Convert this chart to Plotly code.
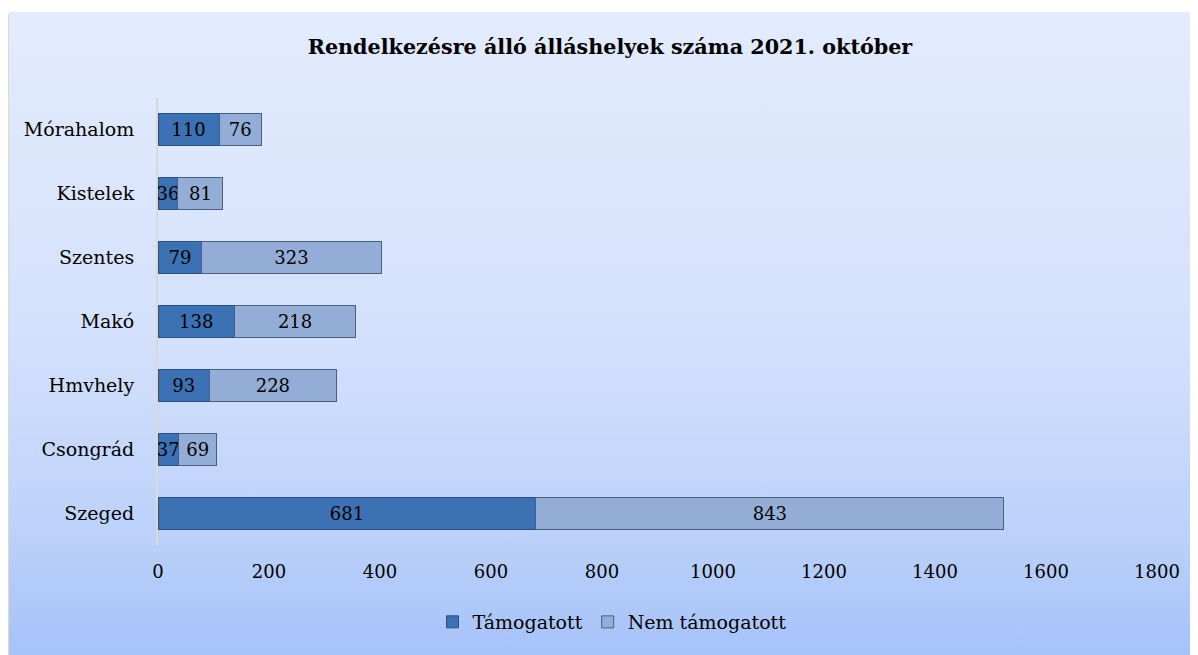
import plotly.graph_objects as go

categories = ["Szeged", "Csongrád", "Hmvhely", "Makó", "Szentes", "Kistelek", "Mórahalom"]
tamogatott = [681, 37, 93, 138, 79, 36, 110]
nem_tamogatott = [843, 69, 228, 218, 323, 81, 76]
x_ticks = [0, 200, 400, 600, 800, 1000, 1200, 1400, 1600, 1800]
title_text = "Rendelkezésre álló álláshelyek száma 2021. október"

FONT = "DejaVu Serif, serif"
OFF = 8  # page body margin

fig = go.Figure()
fig.add_trace(go.Bar(
    y=categories, x=tamogatott, name="Támogatott", orientation="h",
    marker=dict(color="#3C71B4", line=dict(color="#2A4F80", width=1)),
    text=tamogatott, textposition="inside", insidetextanchor="middle", textangle=0,
    textfont=dict(color="#000000", size=18, family=FONT),
))
fig.add_trace(go.Bar(
    y=categories, x=nem_tamogatott, name="Nem támogatott", orientation="h",
    marker=dict(color="#94ADD6", line=dict(color="#4A5F80", width=1)),
    text=nem_tamogatott, textposition="inside", insidetextanchor="middle", textangle=0,
    textfont=dict(color="#000000", size=18, family=FONT),
))

svg = ("<svg xmlns='http://www.w3.org/2000/svg' width='100' height='100' preserveAspectRatio='none'>"
       "<defs><linearGradient id='g' x1='0' y1='0' x2='0' y2='1'>"
       "<stop offset='0' stop-color='%23E3ECFD'/>"
       "<stop offset='0.5' stop-color='%23D4E1FC'/>"
       "<stop offset='0.8' stop-color='%23BDD2FA'/>"
       "<stop offset='1' stop-color='%23A6C2F9'/>"
       "</linearGradient></defs><rect width='100' height='100' fill='url(%23g)'/></svg>")
src = "data:image/svg+xml;charset=utf-8," + svg.replace("<", "%3C").replace(">", "%3E").replace(" ", "%20")

W, H = 1198 - OFF, 655 - OFF
L, R, T, B = 158 - OFF, 1198 - 1157, 97 - OFF, 110
pw, ph = W - L - R, H - T - B

def px(xp):
    return (xp - OFF - L) / pw

def py(yp):
    return (H - B - (yp - OFF)) / ph

fig.add_layout_image(dict(
    source=src, xref="paper", yref="paper",
    x=px(9), y=py(12), sizex=(1198 - 9) / pw, sizey=(655 - 12) / ph,
    xanchor="left", yanchor="top", sizing="stretch", layer="below",
))
fig.add_shape(type="rect", xref="paper", yref="paper",
              x0=px(5), x1=px(9), y0=py(655), y1=py(14),
              fillcolor="rgba(180,180,180,0.5)", line=dict(width=0), layer="below")

fig.update_layout(
    width=W, height=H,
    margin=dict(l=L, r=R, t=T, b=B),
    barmode="stack", bargap=0.5,
    paper_bgcolor="white", plot_bgcolor="rgba(0,0,0,0)",
    font=dict(family=FONT, size=18, color="#000000"),
    title=dict(text="<b>" + title_text + "</b>", x=(610 - OFF) / W, xanchor="center",
               y=1 - (47 - OFF) / H, yanchor="middle", font=dict(size=20.7, family=FONT)),
    uniformtext=dict(minsize=18, mode="show"),
    legend=dict(orientation="h", x=px(612), xanchor="center", y=py(622), yanchor="middle",
                font=dict(size=19), bgcolor="rgba(0,0,0,0)", traceorder="normal"),
    xaxis=dict(range=[0, 1800], tickvals=x_ticks, showgrid=False, zeroline=False,
               showline=False, ticks="", ticklabelstandoff=14, tickfont=dict(size=18)),
    yaxis=dict(showline=True, linecolor="#D9D9D9", linewidth=2, ticks="",
               showgrid=False, ticklabelstandoff=18, tickfont=dict(size=19)),
)

fig.write_html("out.html")
